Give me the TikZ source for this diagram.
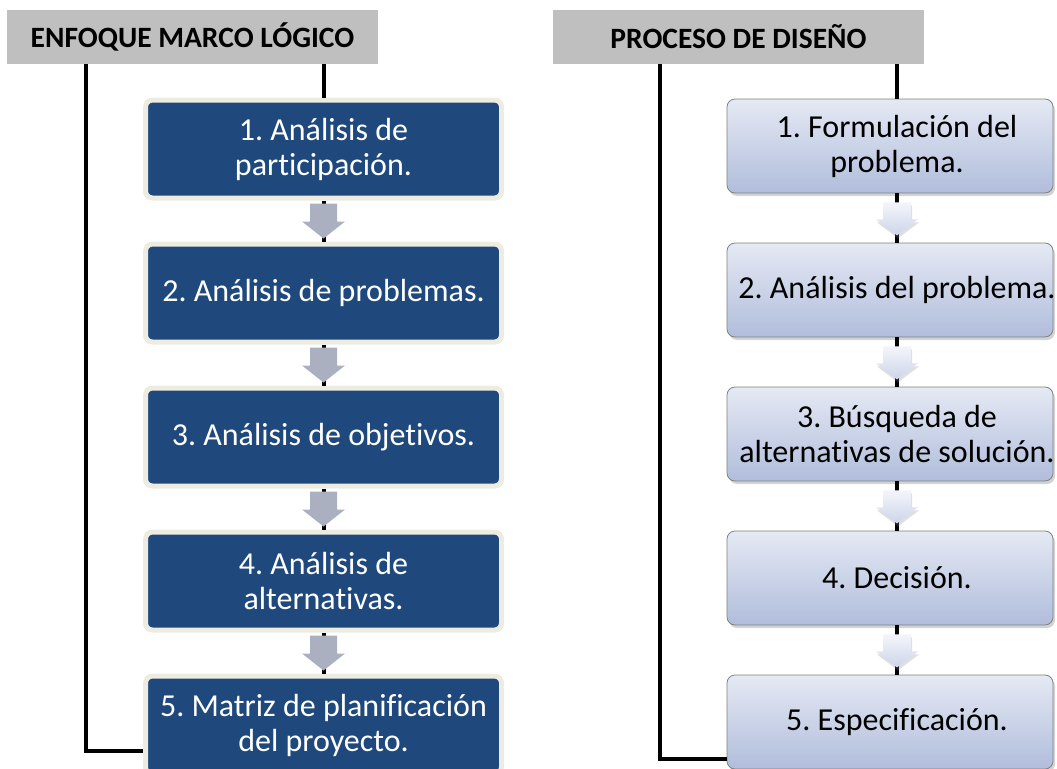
\documentclass[tikz,border=0pt]{standalone}
\usepackage{fontspec}
\setmainfont{Carlito}[Ligatures=NoCommon]
\usetikzlibrary{calc,shadows}
\frenchspacing

\definecolor{azul}{RGB}{31,73,125}
\definecolor{crema}{RGB}{238,236,225}
\definecolor{grisflecha}{RGB}{170,176,191}
\definecolor{griscab}{RGB}{191,191,191}
\definecolor{celesteA}{RGB}{229,233,244}
\definecolor{celesteB}{RGB}{176,189,219}
\definecolor{blancoA}{RGB}{243,245,250}
\definecolor{blancoB}{RGB}{206,213,234}
\newcommand{\sangria}{\hspace*{14pt}}

\begin{document}
\begin{tikzpicture}[x=1pt,y=-1pt,
    cab/.style={fill=griscab, minimum width=371pt, minimum height=54pt, inner sep=0pt,
        font=\fontsize{29.5}{35}\selectfont\bfseries},
    paso/.style={fill=azul, draw=crema, line width=5pt, rounded corners=7pt,
        minimum width=356pt, minimum height=98pt, inner sep=0pt, align=center,
        text=white, font=\fontsize{32}{35}\selectfont},
    etapa/.style={top color=celesteA, bottom color=celesteB, draw=gray, line width=0.8pt,
        rounded corners=8pt, minimum width=326pt, minimum height=94pt,
        inner xsep=-3pt, inner ysep=0pt, align=center, font=\fontsize{32}{35}\selectfont,
        drop shadow={shadow xshift=2pt, shadow yshift=-3pt, opacity=0.35}},
    linea/.style={line width=4pt}]
    \useasboundingbox (0,0) rectangle (1057,768);
    \clip (0,0) rectangle (1057,768);

    \node[cab] (h1) at (192.5,37) {ENFOQUE MARCO LÓGICO};
    \node[cab] (h2) at (738.5,37) {PROCESO DE DISEÑO};

    \node[paso] (p1) at (323.5,149) {1. Análisis de\\participación.};
    \node[paso] (p2) at (323.5,293) {2. Análisis de problemas.};
    \node[paso] (p3) at (323.5,437) {3. Análisis de objetivos.};
    \node[paso] (p4) at (323.5,581) {4. Análisis de\\alternativas.};
    \node[paso] (p5) at (323.5,725) {5. Matriz de planificación\\del proyecto.};

    \node[etapa] (e1) at (890,146) {\sangria 1. Formulación del\\\sangria problema.};
    \node[etapa] (e2) at (890,290) {\sangria 2. Análisis del problema.};
    \node[etapa] (e3) at (890,434) {\sangria 3. Búsqueda de\\\sangria alternativas de solución.};
    \node[etapa] (e4) at (890,578) {\sangria 4. Decisión.};
    \node[etapa] (e5) at (890,722) {\sangria 5. Especificación.};

    \draw[linea] ($(h1.south)+(-106.5,0)$) |- ($(p5.west)+(0,26)$);
    \draw[linea] (h1.south -| p1.north) -- (p1.north);
    \draw[linea] ($(h2.south)+(-78.5,0)$) |- ($(e5.west)+(0,37)$);
    \draw[linea] ($(h2.south -| e1.north)+(7,0)$) -- ($(e1.north)+(7,0)$);

    \foreach \i/\j in {1/2,2/3,3/4,4/5} {
        \draw[linea] (p\i.south) -- (p\j.north);
        \draw[linea] ($(e\i.south)+(7,0)$) -- ($(e\j.north)+(7,0)$);
        \fill[grisflecha] ($(p\i.south)+(0,3)$) ++(-13.5,0) -- ++(27,0) -- ++(0,18)
            -- ++(8,0) -- ++(-21.5,17) -- ++(-21.5,-17) -- ++(8,0) -- cycle;
        \shade[top color=blancoA, bottom color=blancoB,
            drop shadow={shadow xshift=1pt, shadow yshift=-3pt, opacity=0.25}]
            ($(e\i.south)+(7,9)$) ++(-14,0) -- ++(28,0) -- ++(0,17)
            -- ++(7,0) -- ++(-21,16) -- ++(-21,-16) -- ++(7,0) -- cycle;
    }
\end{tikzpicture}
\end{document}
